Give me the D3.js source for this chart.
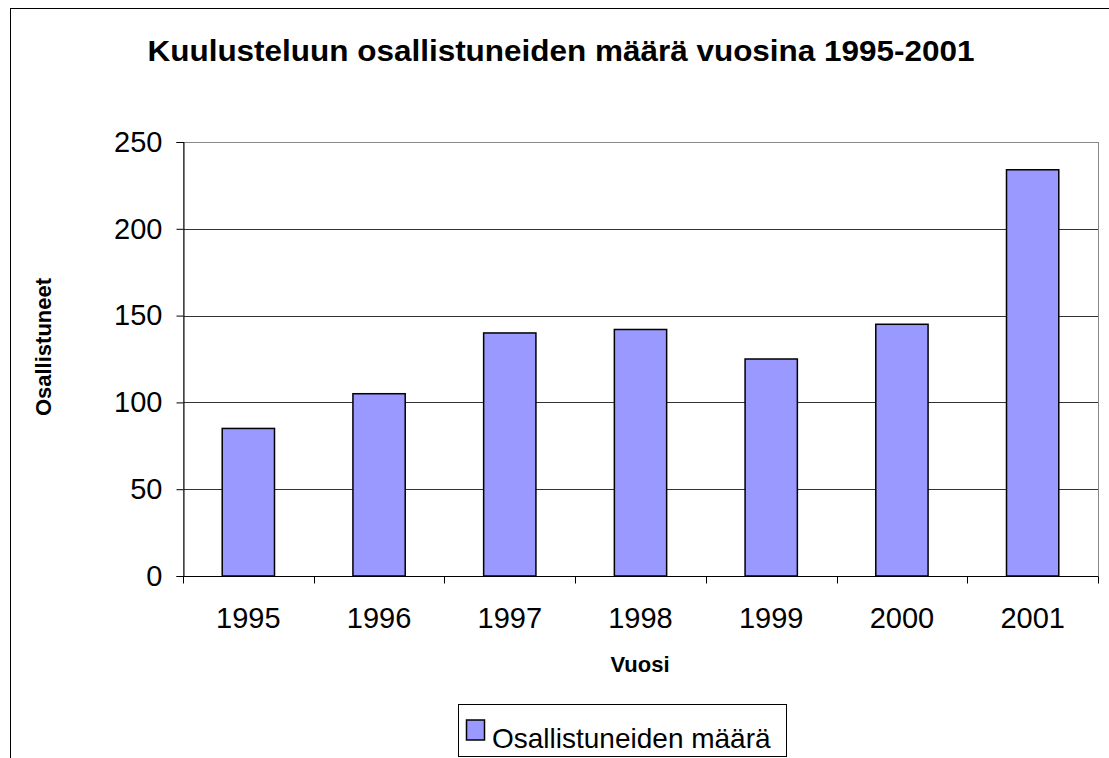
<!DOCTYPE html>
<html lang="en">
<head>
  <meta charset="UTF-8">
  <title>Kuulusteluun osallistuneiden määrä</title>
  <script src="https://d3js.org/d3.v7.min.js"></script>
  <style>
    body { margin: 0; background: #fff; }
    svg { display: block; font-family: "Liberation Sans", Arial, sans-serif; }
  </style>
</head>
<body>
  <div id="chart"></div>

  <script>
    const years = ["1995", "1996", "1997", "1998", "1999", "2000", "2001"];
    const participants = [85, 105, 140, 142, 125, 145, 234];
    const yTicks = [0, 50, 100, 150, 200, 250];

    const title = "Kuulusteluun osallistuneiden määrä vuosina 1995-2001";
    const xTitle = "Vuosi";
    const yTitle = "Osallistuneet";
    const seriesName = "Osallistuneiden määrä";

    const width = 1109;
    const height = 758;
    const plot = { left: 183, top: 142, right: 1098, bottom: 576 };

    const svg = d3.select("#chart")
      .append("svg")
      .attr("width", width)
      .attr("height", height);

    // outer chart frame (right/bottom edges fall outside the picture)
    svg.append("rect")
      .attr("x", 10.5)
      .attr("y", 8.5)
      .attr("width", width + 20)
      .attr("height", height + 20)
      .attr("fill", "#fff")
      .attr("stroke", "#000");

    const x = d3.scaleBand()
      .domain(years)
      .range([plot.left, plot.right])
      .paddingInner(0.6)
      .paddingOuter(0.3);

    const xOuter = d3.scaleBand()
      .domain(years)
      .range([plot.left, plot.right]);

    const y = d3.scaleLinear()
      .domain([0, 250])
      .range([plot.bottom, plot.top]);

    // gridlines
    svg.append("g")
      .selectAll("line")
      .data(yTicks.filter(d => d > 0))
      .enter().append("line")
      .attr("x1", plot.left)
      .attr("x2", plot.right)
      .attr("y1", d => Math.round(y(d)) + 0.5)
      .attr("y2", d => Math.round(y(d)) + 0.5)
      .attr("stroke", "#333");

    // plot area border
    svg.append("rect")
      .attr("x", plot.left + 0.5)
      .attr("y", plot.top + 0.5)
      .attr("width", plot.right - plot.left)
      .attr("height", plot.bottom - plot.top)
      .attr("fill", "none")
      .attr("stroke", "#888");

    // bars
    svg.append("g")
      .selectAll("rect")
      .data(years)
      .enter().append("rect")
      .attr("x", d => x(d))
      .attr("y", (d, i) => y(participants[i]))
      .attr("width", x.bandwidth())
      .attr("height", (d, i) => plot.bottom - y(participants[i]))
      .attr("fill", "#9999ff")
      .attr("stroke", "#000")
      .attr("stroke-width", 1.5);

    // y axis
    const yAxis = svg.append("g")
      .attr("transform", "translate(" + (plot.left + 0.5) + ",0)")
      .call(d3.axisLeft(y).tickValues(yTicks).tickSize(7).tickPadding(14));
    yAxis.select(".domain").attr("stroke", "#000");
    yAxis.selectAll("text").attr("font-size", 29).attr("font-family", null).attr("fill", "#000");

    // x axis: ticks on category boundaries, labels at centres
    const xAxis = svg.append("g")
      .attr("transform", "translate(0," + (plot.bottom + 0.5) + ")");
    xAxis.append("line")
      .attr("x1", plot.left)
      .attr("x2", plot.right)
      .attr("stroke", "#000");
    xAxis.selectAll(".tick")
      .data(years.concat(["end"]))
      .enter().append("line")
      .attr("x1", (d, i) => Math.round(plot.left + i * xOuter.step()) + 0.5)
      .attr("x2", (d, i) => Math.round(plot.left + i * xOuter.step()) + 0.5)
      .attr("y1", 0)
      .attr("y2", 7)
      .attr("stroke", "#000");
    xAxis.selectAll("text")
      .data(years)
      .enter().append("text")
      .attr("x", d => xOuter(d) + xOuter.bandwidth() / 2)
      .attr("y", 51)
      .attr("text-anchor", "middle")
      .attr("font-size", 29)
      .text(d => d);

    // titles
    svg.append("text")
      .attr("x", 561)
      .attr("y", 61)
      .attr("text-anchor", "middle")
      .attr("font-size", 30)
      .attr("font-weight", "bold")
      .attr("textLength", 827)
      .attr("lengthAdjust", "spacingAndGlyphs")
      .text(title);

    svg.append("text")
      .attr("x", 640)
      .attr("y", 672)
      .attr("text-anchor", "middle")
      .attr("font-size", 22)
      .attr("font-weight", "bold")
      .text(xTitle);

    svg.append("text")
      .attr("transform", "translate(51,347) rotate(-90)")
      .attr("text-anchor", "middle")
      .attr("font-size", 22)
      .attr("font-weight", "bold")
      .text(yTitle);

    // legend
    const legend = svg.append("g");
    legend.append("rect")
      .attr("x", 458.5)
      .attr("y", 704.5)
      .attr("width", 328)
      .attr("height", 52)
      .attr("fill", "#fff")
      .attr("stroke", "#000");
    legend.append("rect")
      .attr("x", 466.5)
      .attr("y", 720)
      .attr("width", 18)
      .attr("height", 20)
      .attr("fill", "#9999ff")
      .attr("stroke", "#000")
      .attr("stroke-width", 1.5);
    legend.append("text")
      .attr("x", 492)
      .attr("y", 748)
      .attr("font-size", 28)
      .text(seriesName);
  </script>
</body>
</html>
